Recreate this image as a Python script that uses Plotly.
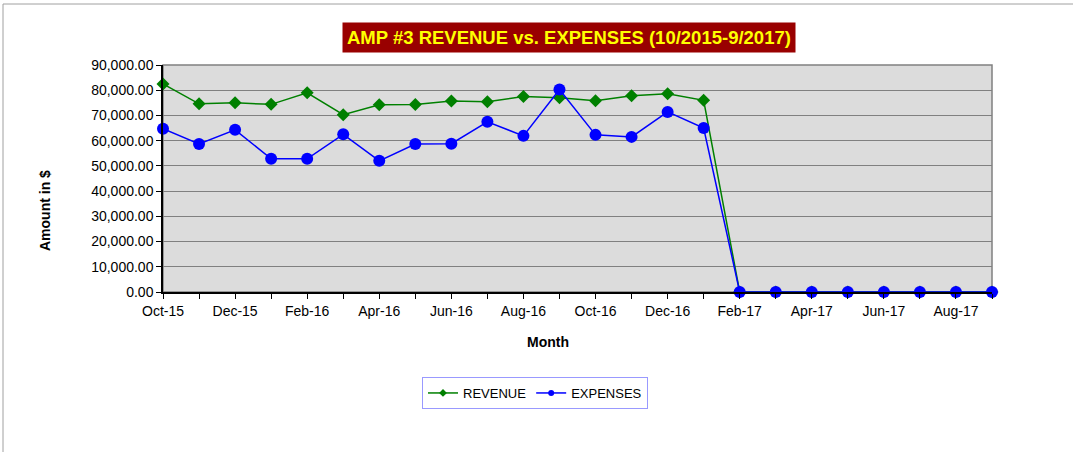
import plotly.graph_objects as go

months = ["Oct-15", "Nov-15", "Dec-15", "Jan-16", "Feb-16", "Mar-16", "Apr-16", "May-16",
          "Jun-16", "Jul-16", "Aug-16", "Sep-16", "Oct-16", "Nov-16", "Dec-16", "Jan-17",
          "Feb-17", "Mar-17", "Apr-17", "May-17", "Jun-17", "Jul-17", "Aug-17", "Sep-17"]
revenue = [82500, 74600, 75000, 74400, 79000, 70300, 74200, 74300,
           75700, 75400, 77500, 77000, 75800, 77800, 78600, 76000,
           0, 0, 0, 0, 0, 0, 0, 0]
expenses = [64700, 58700, 64300, 52800, 52800, 62500, 52000, 58700,
            58800, 67500, 61900, 80300, 62300, 61500, 71400, 65000,
            0, 0, 0, 0, 0, 0, 0, 0]
tick_labels = [m if i % 2 == 0 else "" for i, m in enumerate(months)]

FONT = "Liberation Sans, Arial, sans-serif"
GREEN, BLUE = "#008000", "#0000FF"

fig = go.Figure()
fig.add_trace(go.Scatter(x=months, y=revenue, name="REVENUE", mode="lines+markers",
                         line=dict(color=GREEN, width=1.5),
                         marker=dict(symbol="diamond", size=10, color=GREEN),
                         cliponaxis=False, showlegend=False))
fig.add_trace(go.Scatter(x=months, y=expenses, name="EXPENSES", mode="lines+markers",
                         line=dict(color=BLUE, width=1.5),
                         marker=dict(symbol="circle", size=12, color=BLUE),
                         cliponaxis=False, showlegend=False))
# legend entries with small markers, as in the reference
fig.add_trace(go.Scatter(x=[None], y=[None], name="REVENUE", mode="lines+markers",
                         line=dict(color=GREEN, width=1.5),
                         marker=dict(symbol="diamond", size=6, color=GREEN)))
fig.add_trace(go.Scatter(x=[None], y=[None], name="EXPENSES", mode="lines+markers",
                         line=dict(color=BLUE, width=1.5),
                         marker=dict(symbol="circle", size=6, color=BLUE)))

L, R, T, B = 163, 81, 65, 160
W, H = 1073, 452
pw, ph = W - L - R, H - T - B

def px(x):
    return (x - L) / pw

def py(y):
    return (H - B - y) / ph

fig.update_layout(
    width=W, height=H,
    margin=dict(l=L, r=R, t=T, b=B),
    paper_bgcolor="white",
    plot_bgcolor="#DCDCDC",
    font=dict(family=FONT, size=14, color="black"),
    showlegend=True,
    legend=dict(orientation="h", x=px(535), y=py(393), xanchor="center", yanchor="middle",
                bordercolor="#9999FF", borderwidth=1, bgcolor="white",
                font=dict(size=13), tracegroupgap=0),
    xaxis=dict(type="category", range=[0, len(months) - 1],
               tickmode="array", tickvals=months, ticktext=tick_labels,
               ticks="outside", ticklen=5, tickcolor="black",
               showline=True, linecolor="black", linewidth=1.5,
               showgrid=False, zeroline=False),
    yaxis=dict(range=[0, 90000], dtick=10000, tickformat=",.2f",
               showline=True, linecolor="black", linewidth=1.5,
               ticks="outside", ticklen=5, tickcolor="black",
               gridcolor="#808080", gridwidth=1, zeroline=False),
)

# plot area gray frame (top/right)
fig.add_shape(type="rect", xref="paper", yref="paper", x0=0, x1=1, y0=0, y1=1,
              line=dict(color="#808080", width=1.5), layer="below")
# outer chart border
fig.add_shape(type="rect", xref="paper", yref="paper",
              x0=px(3), x1=px(1200), y0=py(600), y1=py(4),
              line=dict(color="#A0A0A0", width=1))

fig.add_annotation(text="<b>AMP #3 REVENUE vs. EXPENSES (10/2015-9/2017)</b>",
                   xref="paper", yref="paper", x=px(568.5), y=py(38),
                   xanchor="center", yanchor="middle", showarrow=False,
                   font=dict(family=FONT, size=18.5, color="#FFFF00"),
                   bgcolor="#990000", borderpad=4)
# axis titles
fig.add_annotation(text="<b>Month</b>", xref="paper", yref="paper",
                   x=px(547.5), y=py(342), xanchor="center", yanchor="middle",
                   showarrow=False, font=dict(family=FONT, size=14))
fig.add_annotation(text="<b>Amount in $</b>", xref="paper", yref="paper",
                   x=px(45), y=py(211), xanchor="center", yanchor="middle",
                   textangle=-90, showarrow=False, font=dict(family=FONT, size=14))

fig.write_html("out.html", config={"displayModeBar": False},
               post_script="document.body.style.margin='0';")
